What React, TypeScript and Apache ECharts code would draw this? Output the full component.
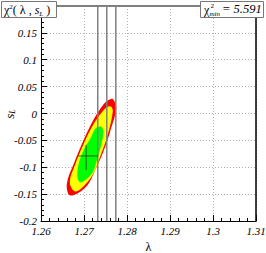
import React, { useEffect, useRef } from "react";
import * as echarts from "echarts";

// Contours (λ, s_L), clockwise from the upper tip
const redContour: number[][] = [
  [1.2767, 0.027], [1.2775, 0.0097], [1.2763, -0.0275], [1.2748, -0.0647],
  [1.2728, -0.102], [1.2705, -0.1362], [1.2668, -0.1526], [1.266, -0.1312],
  [1.2678, -0.0897], [1.2701, -0.0461], [1.2724, -0.0089], [1.2746, 0.0177],
  [1.2757, 0.0251],
];
const yellowContour: number[][] = [
  [1.2761, 0.0135], [1.2767, 0.0047], [1.2755, -0.04], [1.2739, -0.0772],
  [1.272, -0.1144], [1.2691, -0.1415], [1.2677, -0.1443], [1.2667, -0.1269],
  [1.2679, -0.0958], [1.2698, -0.0586], [1.2721, -0.0214], [1.2747, 0.0075],
];
const greenContour: number[][] = [
  [1.274, -0.0246], [1.2745, -0.0339], [1.274, -0.0586], [1.273, -0.0865],
  [1.2719, -0.1113], [1.2693, -0.1284], [1.2685, -0.1206], [1.2687, -0.0958],
  [1.2699, -0.0679], [1.2715, -0.0461], [1.2727, -0.0275],
];
const contourColors = ["#ff0000", "#ffff00", "#00ff00"];
const contours = [redContour, yellowContour, greenContour];

const verticalLines = [1.2732, 1.2753, 1.2774];
const bestFit = [1.2705, -0.079];
const errLambda = [1.2686, 1.2733];
const errS = [-0.0586, -0.1051];
const chi2Min = "5.591";

const xMin = 1.26, xMax = 1.31, xStep = 0.01;
const yMin = -0.2, yMax = 0.2, yStep = 0.05;

const SERIF = "'Liberation Serif', 'DejaVu Serif', serif";

export default function App() {
  const ref = useRef<HTMLDivElement>(null);
  useEffect(() => {
    if (!ref.current) return;
    const chart = echarts.init(ref.current, null, { renderer: "svg" });
    const fmt = (v: number) => String(+v.toFixed(3));
    const labelStyle = { fontFamily: SERIF, fontStyle: "italic" as const, fontSize: 11, color: "#000" };
    const series: any[] = [
      {
        type: "custom",
        silent: true,
        data: contours.map((c) => c[0]),
        renderItem: (params: any, api: any) => {
          const pts = contours[params.dataIndex].map((p) => api.coord(p));
          return {
            type: "polygon",
            shape: { points: pts, smooth: 0.35 },
            style: { fill: contourColors[params.dataIndex], stroke: null, lineWidth: 0 },
          };
        },
        z: 2,
      },
      ...verticalLines.map((v) => ({
        type: "line",
        data: [[v, yMin], [v, yMax]],
        symbol: "none",
        silent: true,
        lineStyle: { color: "#808080", width: 1.5 },
        z: 3,
      })),
      {
        type: "line",
        data: [[errLambda[0], bestFit[1]], [errLambda[1], bestFit[1]]],
        symbol: "none",
        silent: true,
        lineStyle: { color: "#333", width: 0.8 },
        z: 4,
      },
      {
        type: "line",
        data: [[bestFit[0], errS[0]], [bestFit[0], errS[1]]],
        symbol: "none",
        silent: true,
        lineStyle: { color: "#333", width: 0.8 },
        z: 4,
      },
    ];
    const T = (extra: any) => ({ z: 100, zlevel: 0, ...extra });
    chart.setOption({
      animation: false,
      grid: { left: 41, right: 10, top: 6, bottom: 32, containLabel: false, outerBoundsMode: "none" },
      xAxis: [
        {
          type: "value",
          min: xMin,
          max: xMax,
          interval: xStep,
          name: "λ",
          nameLocation: "middle",
          nameGap: 16,
          nameTextStyle: { fontFamily: SERIF, fontSize: 12, lineHeight: 13, color: "#000" },
          axisLine: { onZero: false, lineStyle: { color: "#000", width: 1 } },
          axisTick: { inside: true, length: 6, lineStyle: { color: "#000" } },
          minorTick: { show: true, splitNumber: 5, length: 3, lineStyle: { color: "#000" } },
          axisLabel: { ...labelStyle, margin: 4, formatter: fmt, showMinLabel: true, showMaxLabel: true, hideOverlap: false },
          splitLine: { show: true, lineStyle: { color: "#b0b0b0", type: [1, 2], width: 1 } },
        },
        {
          type: "value",
          position: "top",
          min: xMin,
          max: xMax,
          axisLine: { show: true, onZero: false, lineStyle: { color: "#808080", width: 2 } },
          axisTick: { show: false },
          axisLabel: { show: false },
          splitLine: { show: false },
        },
      ],
      yAxis: [
        {
          type: "value",
          min: yMin,
          max: yMax,
          interval: yStep,
          axisLine: { show: true, onZero: false, lineStyle: { color: "#000", width: 1 } },
          axisTick: { inside: true, length: 6, lineStyle: { color: "#000" } },
          minorTick: { show: true, splitNumber: 5, length: 3, lineStyle: { color: "#000" } },
          axisLabel: { ...labelStyle, margin: 4, formatter: fmt, showMinLabel: true, showMaxLabel: false, hideOverlap: false },
          splitLine: { show: true, lineStyle: { color: "#b0b0b0", type: [1, 2], width: 1 } },
        },
        {
          type: "value",
          position: "right",
          min: yMin,
          max: yMax,
          axisLine: { show: true, onZero: false, lineStyle: { color: "#000", width: 1.5 } },
          axisTick: { show: false },
          axisLabel: { show: false },
          splitLine: { show: false },
        },
      ],
      series,
      graphic: [
        T({
          type: "text",
          x: 9,
          y: 114,
          rotation: Math.PI / 2,
          style: {
            text: "{i|s}{sub|L}",
            align: "center",
            verticalAlign: "middle",
            rich: {
              i: { fontFamily: SERIF, fontStyle: "italic", fontSize: 13, fill: "#000", lineHeight: 14 },
              sub: { fontFamily: SERIF, fontStyle: "italic", fontSize: 8, fill: "#000", verticalAlign: "bottom", lineHeight: 14 },
            },
          },
        }),
        T({
          type: "rect",
          shape: { x: 1.5, y: 1.5, width: 55, height: 16 },
          style: { fill: "#fff", stroke: "#777", lineWidth: 1 },
        }),
        T({
          type: "text",
          x: 4,
          y: 10,
          z: 101,
          style: {
            text: "{a|χ}{sup|2}{a|( λ , }{i|s}{sub|L}{a| )}",
            verticalAlign: "middle",
            rich: {
              a: { fontFamily: SERIF, fontSize: 12, fill: "#000", lineHeight: 14 },
              i: { fontFamily: SERIF, fontStyle: "italic", fontSize: 12, fill: "#000", lineHeight: 14 },
              sup: { fontFamily: SERIF, fontSize: 7, fill: "#000", verticalAlign: "top", lineHeight: 14 },
              sub: { fontFamily: SERIF, fontStyle: "italic", fontSize: 7, fill: "#000", verticalAlign: "bottom", lineHeight: 14 },
            },
          },
        }),
        T({
          type: "rect",
          shape: { x: 200.5, y: 1.5, width: 63, height: 16 },
          style: { fill: "#fff", stroke: "#777", lineWidth: 1 },
        }),
        T({
          type: "text",
          x: 204,
          y: 10,
          z: 101,
          style: { text: "χ", fontFamily: SERIF, fontSize: 12, fill: "#000", verticalAlign: "middle" },
        }),
        T({
          type: "text",
          x: 210.5,
          y: 5.5,
          z: 101,
          style: { text: "2", fontFamily: SERIF, fontSize: 7, fill: "#000", verticalAlign: "middle" },
        }),
        T({
          type: "text",
          x: 209.5,
          y: 14,
          z: 101,
          style: { text: "min", fontFamily: SERIF, fontStyle: "italic", fontSize: 7, fill: "#000", verticalAlign: "middle" },
        }),
        T({
          type: "text",
          x: 222,
          y: 9,
          z: 101,
          style: { text: "= " + chi2Min, fontFamily: SERIF, fontStyle: "italic", fontSize: 12.5, fill: "#000", verticalAlign: "middle" },
        }),
      ],
    });
    return () => chart.dispose();
  }, []);
  return <div ref={ref} style={{ width: 266, height: 253, position: "absolute", left: 0, top: 0 }} />;
}
